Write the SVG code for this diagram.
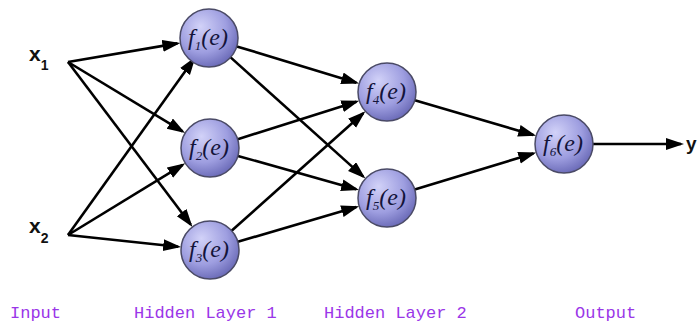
<svg xmlns="http://www.w3.org/2000/svg" width="699" height="325" viewBox="0 0 699 325">
<style>
.edge{stroke:#000;stroke-width:2.6;fill:none;marker-end:url(#arr)}
.node circle{fill:url(#g);stroke:#4a4a66;stroke-width:1.5}
.fn{font-family:"Liberation Serif",serif;font-style:italic;font-size:24px;fill:#14143a}
.sub{font-size:13px}
.in{font-family:"Liberation Sans",Arial,sans-serif;font-weight:bold;fill:#111}
.lbl{font-family:"Liberation Mono","Noto Sans CJK SC",monospace;font-size:17px;fill:#9a36e8}
</style>
<defs>
<radialGradient id="g" cx="0.4" cy="0.35" r="0.7" fx="0.35" fy="0.3">
<stop offset="0" stop-color="#d2d2f8"/>
<stop offset="0.6" stop-color="#9e9ee0"/>
<stop offset="1" stop-color="#6666b4"/>
</radialGradient>
<marker id="arr" markerUnits="userSpaceOnUse" markerWidth="20" markerHeight="14" refX="15" refY="6" orient="auto">
<path d="M0,0 L18,6 L0,12 Z" fill="#000"/>
</marker>
</defs>
<g id="connectors">
<line class="edge" x1="68" y1="62" x2="177.4" y2="43.4"/>
<line class="edge" x1="68" y1="62" x2="182.6" y2="131.4"/>
<line class="edge" x1="68" y1="62" x2="190.7" y2="224.5"/>
<line class="edge" x1="68" y1="235" x2="193.8" y2="59.2"/>
<line class="edge" x1="68" y1="235" x2="182.7" y2="164.8"/>
<line class="edge" x1="68" y1="235" x2="178.2" y2="246.7"/>
<line class="edge" x1="236.8" y1="46.4" x2="356.3" y2="82.7"/>
<line class="edge" x1="230.6" y1="57.4" x2="363.2" y2="176.6"/>
<line class="edge" x1="237.7" y1="139.2" x2="356.4" y2="101.7"/>
<line class="edge" x1="237.9" y1="155.9" x2="356.2" y2="189.3"/>
<line class="edge" x1="231.6" y1="230.7" x2="363.2" y2="113.3"/>
<line class="edge" x1="237.8" y1="241.8" x2="356.3" y2="207.0"/>
<line class="edge" x1="414.8" y1="100.2" x2="533.3" y2="135.0"/>
<line class="edge" x1="414.7" y1="189.5" x2="533.4" y2="153.4"/>
<line class="edge" x1="593" y1="144" x2="681" y2="144"/>
</g>
<g id="x1"><text class="in" x="29" y="61" font-size="21">x<tspan font-size="14" dy="9">1</tspan></text></g>
<g id="x2"><text class="in" x="29" y="233" font-size="21">x<tspan font-size="14" dy="10">2</tspan></text></g>
<g id="y"><text class="in" x="686" y="150" font-size="19">y</text></g>
<g id="f1" class="node"><circle cx="209" cy="38" r="29"/><text class="fn" x="208" y="45" text-anchor="middle">f<tspan class="sub" dy="5">1</tspan><tspan dy="-5">(e)</tspan></text></g>
<g id="f2" class="node"><circle cx="210" cy="148" r="29"/><text class="fn" x="209" y="155" text-anchor="middle">f<tspan class="sub" dy="5">2</tspan><tspan dy="-5">(e)</tspan></text></g>
<g id="f3" class="node"><circle cx="210" cy="250" r="29"/><text class="fn" x="209" y="257" text-anchor="middle">f<tspan class="sub" dy="5">3</tspan><tspan dy="-5">(e)</tspan></text></g>
<g id="f4" class="node"><circle cx="387" cy="92" r="29"/><text class="fn" x="386" y="99" text-anchor="middle">f<tspan class="sub" dy="5">4</tspan><tspan dy="-5">(e)</tspan></text></g>
<g id="f5" class="node"><circle cx="387" cy="198" r="29"/><text class="fn" x="386" y="205" text-anchor="middle">f<tspan class="sub" dy="5">5</tspan><tspan dy="-5">(e)</tspan></text></g>
<g id="f6" class="node"><circle cx="564" cy="144" r="29"/><text class="fn" x="563" y="151" text-anchor="middle">f<tspan class="sub" dy="5">6</tspan><tspan dy="-5">(e)</tspan></text></g>
<g id="labels">
<text class="lbl" x="10" y="318">Input</text>
<text class="lbl" x="134" y="318">Hidden Layer 1</text>
<text class="lbl" x="324" y="318">Hidden Layer 2</text>
<text class="lbl" x="575" y="318">Output</text>
</g>
</svg>
